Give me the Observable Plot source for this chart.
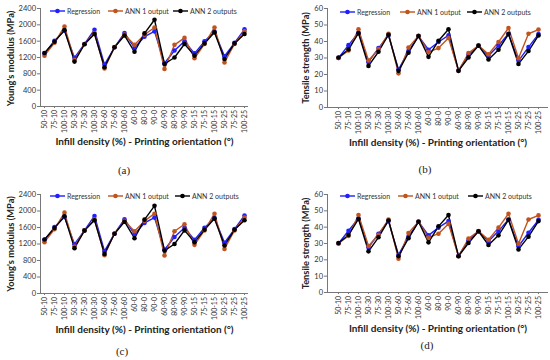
<!DOCTYPE html>
<html><head><meta charset="utf-8">
<script src="https://cdn.jsdelivr.net/npm/d3@7"></script>
<script src="https://cdn.jsdelivr.net/npm/@observablehq/plot@0.6"></script>
<style>
body{margin:0;background:#fff;}
#root{position:relative;width:550px;height:360px;overflow:hidden;background:#fff;font-family:Lato,"Open Sans",sans-serif;}
.pan{position:absolute;}
.cap{position:absolute;font-family:"Liberation Serif","DejaVu Serif",serif;font-size:11px;color:#222;transform:translateX(-50%);}
.leg{position:absolute;display:flex;align-items:center;font-size:7px;color:#333;white-space:nowrap;}
.leg svg{margin-right:2px;}
</style></head>
<body><div id="root"></div>
<script>
const categories = ["50-10","75-10","100-10","50-30","75-30","100-30","50-60","75-60","100-60","60-0","80-0","90-0","60-90","80-90","90-90","50-15","75-15","100-15","50-25","75-25","100-25"];
const seriesNames = ["Regression","ANN 1 output","ANN 2 outputs"];
const seriesColors = ["#1f1fff","#c0541c","#000000"];

const youngRegression = [1300,1610,1855,1195,1530,1880,1025,1450,1800,1440,1710,1840,1060,1370,1595,1300,1595,1830,1230,1560,1890];
const youngAnn1 = [1245,1560,1960,1140,1530,1800,930,1455,1760,1510,1760,1935,920,1510,1680,1180,1530,1935,1080,1530,1840];
const youngAnn2 = [1310,1585,1870,1100,1525,1775,960,1450,1740,1340,1790,2125,1040,1200,1530,1245,1545,1815,1165,1545,1775];

const tensileRegression = [30,37.8,45.3,27.5,36,43.7,23,34.2,43.3,35,39.7,43.7,22.4,32,37.4,31.3,37.6,44.7,28.3,36.6,44.5];
const tensileAnn1 = [30,34.6,47.4,28.5,35.4,44.7,20.7,36.4,43.4,33.6,36,42.1,22.2,33,37.6,32.3,39.7,48.2,29.9,44.7,47.2];
const tensileAnn2 = [30.3,35.2,45,25.2,33.8,44.1,22.2,33.2,43.3,30.7,40.5,47.4,22.2,30.3,37.5,29.1,35,44.5,26.4,34.2,43.7];

const youngTicks = [0,400,800,1200,1600,2000,2400];
const tensileTicks = [0,10,20,30,40,50,60];
const xTitle = "Infill density (%) - Printing orientation (°)";

function rows(arrs){
  const out=[];
  arrs.forEach((a,s)=>a.forEach((v,i)=>out.push({cat:categories[i],value:v,series:seriesNames[s]})));
  return out;
}
const youngData = rows([youngRegression,youngAnn1,youngAnn2]);
const tensileData = rows([tensileRegression,tensileAnn1,tensileAnn2]);

const root = document.getElementById("root");

function panel(o){
  const chart = Plot.plot({
    width:o.w, height:o.h,
    marginTop:o.mt, marginBottom:o.mb, marginLeft:o.ml, marginRight:o.mr,
    style:{fontFamily:"Lato, 'Open Sans', sans-serif",fontSize:"7px",color:"#333",background:"transparent",overflow:"visible"},
    x:{type:"point",domain:categories,padding:o.pad},
    y:{domain:[o.ticks[0],o.ticks[o.ticks.length-1]]},
    color:{domain:seriesNames,range:seriesColors},
    marks:[
      Plot.axisY({ticks:o.ticks,tickFormat:d3.format("d"),tickSize:3,tickPadding:1.5,fontSize:7.5,label:null,stroke:"#777"}),
      Plot.axisX({tickSize:2,tickPadding:1.5,tickRotate:-90,fontSize:7,label:null,stroke:"#777"}),
      Plot.ruleY([o.ticks[0]],{stroke:"#777"}),
      Plot.frame({anchor:"left",stroke:"#777"}),
      Plot.line(o.data,{x:"cat",y:"value",stroke:"series",z:"series",strokeWidth:1.4}),
      Plot.dot(o.data,{x:"cat",y:"value",fill:"series",r:2.3}),
      Plot.text([o.ylabel],{text:d=>d,frameAnchor:"left",textAnchor:"middle",lineAnchor:"middle",rotate:-90,dx:-o.ylo,dy:o.ydy,fontWeight:"bold",fontSize:9.3,fill:"#222"}),
      Plot.text([xTitle],{text:d=>d,frameAnchor:"bottom",textAnchor:"middle",dy:o.xlo,lineAnchor:"bottom",fontWeight:"bold",fontSize:10,fill:"#222"})
    ]
  });
  const d=document.createElement("div");
  d.className="pan"; d.style.left=o.left+"px"; d.style.top=o.top+"px";
  d.appendChild(chart); root.appendChild(d);
  o.leg.forEach((lx,i)=>{
    const l=document.createElement("div");
    l.className="leg"; l.style.left=lx+"px"; l.style.top=(o.legY-5)+"px";
    l.innerHTML=`<svg width="15" height="10"><line x1="0" x2="15" y1="5" y2="5" stroke="${seriesColors[i]}" stroke-width="1.4"/><circle cx="7.5" cy="5" r="2.3" fill="${seriesColors[i]}"/></svg><span>${seriesNames[i]}</span>`;
    root.appendChild(l);
  });
  const c=document.createElement("div");
  c.className="cap"; c.style.left=o.capX+"px"; c.style.top=(o.capY-7)+"px";
  c.textContent=o.cap; root.appendChild(c);
}

panel({left:0,top:0,w:275,h:150,mt:8,mb:44,ml:40,mr:27,pad:0.33,ticks:youngTicks,data:youngData,ylabel:"Young's modulus (MPa)",ylo:29,ydy:1,xlo:38,leg:[50,108,173],legY:11,cap:"(a)",capX:124,capY:171});
panel({left:275,top:0,w:275,h:150,mt:8,mb:43,ml:52,mr:2,pad:0.75,ticks:tensileTicks,data:tensileData,ylabel:"Tensile strength (MPa)",ylo:21,ydy:0,xlo:38,leg:[340,400,467],legY:12,cap:"(b)",capX:425,capY:170});
panel({left:0,top:180,w:275,h:156,mt:14,mb:43,ml:40,mr:27,pad:0.33,ticks:youngTicks,data:youngData,ylabel:"Young's modulus (MPa)",ylo:29,ydy:0,xlo:39,leg:[50,108,175],legY:196,cap:"(c)",capX:122,capY:352});
panel({left:275,top:180,w:275,h:156,mt:14,mb:44,ml:52,mr:2,pad:0.75,ticks:tensileTicks,data:tensileData,ylabel:"Tensile strength (MPa)",ylo:21,ydy:0,xlo:39,leg:[340,398,468],legY:196,cap:"(d)",capX:427,capY:346});
</script></body></html>
